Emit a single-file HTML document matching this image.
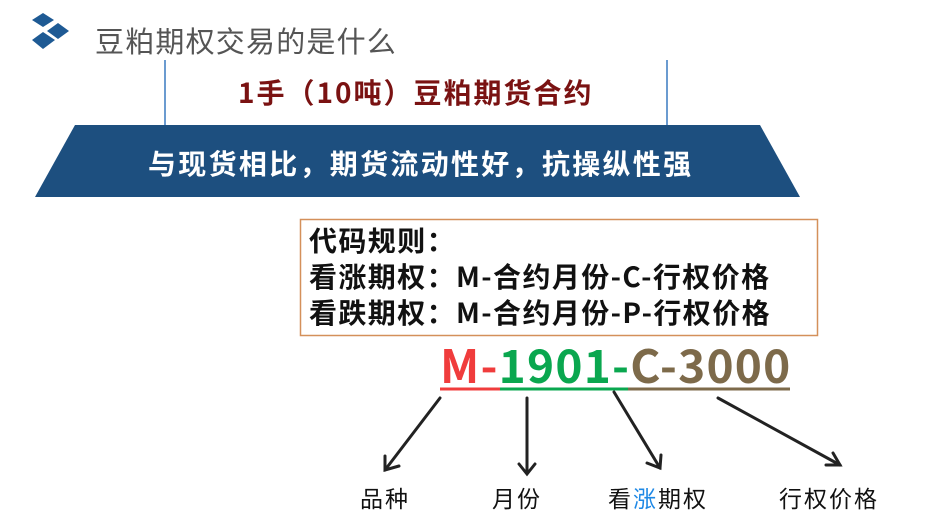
<!DOCTYPE html>
<html><head><meta charset="utf-8"><style>
body{margin:0;width:942px;height:529px;background:#fff;position:relative;overflow:hidden;font-family:"Noto Sans CJK SC","Liberation Sans",sans-serif}
.a{position:absolute;white-space:nowrap}
</style></head><body>
<svg class="a" style="left:0;top:0" width="942" height="529">
<g fill="#1e5a94">
<polygon points="43,13 54,20 43,27 32,20"/>
<polygon points="58,23 69,31 58,39 47,31"/>
<polygon points="43,32 55,40 43,49 32,40"/>
</g>
<line x1="165" y1="60" x2="165" y2="126" stroke="#6b9bd0" stroke-width="2"/>
<line x1="667" y1="60" x2="667" y2="126" stroke="#6b9bd0" stroke-width="2"/>
<polygon points="75,125 760,125 800,197 35,197" fill="#1d4f7f"/>
<rect x="300.5" y="219.5" width="517" height="116" fill="none" stroke="#d4905a" stroke-width="1.5"/>
<line x1="440" y1="389" x2="500" y2="389" stroke="#f03c3c" stroke-width="3"/>
<line x1="500" y1="389" x2="628" y2="389" stroke="#0aa74f" stroke-width="3"/>
<line x1="628" y1="389" x2="790" y2="389" stroke="#7d6a4a" stroke-width="3"/>
<g stroke="#222" stroke-width="3" fill="none" stroke-linecap="round">
<line x1="440" y1="398" x2="385" y2="470"/><polyline points="385,456 385,470 399,466"/>
<line x1="527" y1="398" x2="527" y2="473"/><polyline points="519,464 527,474 535,464"/>
<line x1="614" y1="392" x2="660" y2="468"/><polyline points="647,463 660,468 661,455"/>
<line x1="718" y1="398" x2="840" y2="465"/><polyline points="826,465 840,465 833,453"/>
</g>
</svg>
<div class="a" style="left:95px;top:22px;font-size:29px;line-height:36px;color:#555;letter-spacing:1.2px">豆粕期权交易的是什么</div>
<div class="a" style="left:238px;top:74px;font-size:28px;line-height:36px;font-weight:bold;color:#7a1212;letter-spacing:2px">1手（10吨）豆粕期货合约</div>
<div class="a" style="left:148px;top:145px;font-size:28px;line-height:36px;font-weight:bold;color:#fff;letter-spacing:2.3px">与现货相比，期货流动性好，抗操纵性强</div>
<div class="a" style="left:309px;top:222px;font-size:28px;line-height:36px;font-weight:bold;color:#111;letter-spacing:1.4px">代码规则：<br>看涨期权：M-合约月份-C-行权价格<br>看跌期权：M-合约月份-P-行权价格</div>
<div class="a" style="left:440px;top:336px;font-size:46px;line-height:56px;font-weight:bold;letter-spacing:1.2px"><span style="color:#f03c3c">M-</span><span style="color:#0aa74f">1901-</span><span style="color:#7d6a4a">C-3000</span></div>
<div class="a" style="left:360px;top:481px;font-size:23px;line-height:32px;color:#111;letter-spacing:2px">品种</div>
<div class="a" style="left:492px;top:481px;font-size:23px;line-height:32px;color:#111;letter-spacing:2px">月份</div>
<div class="a" style="left:608px;top:481px;font-size:23px;line-height:32px;color:#111;letter-spacing:2px">看<span style="color:#1e88e5">涨</span>期权</div>
<div class="a" style="left:779px;top:481px;font-size:23px;line-height:32px;color:#111;letter-spacing:2px">行权价格</div>
</body></html>
